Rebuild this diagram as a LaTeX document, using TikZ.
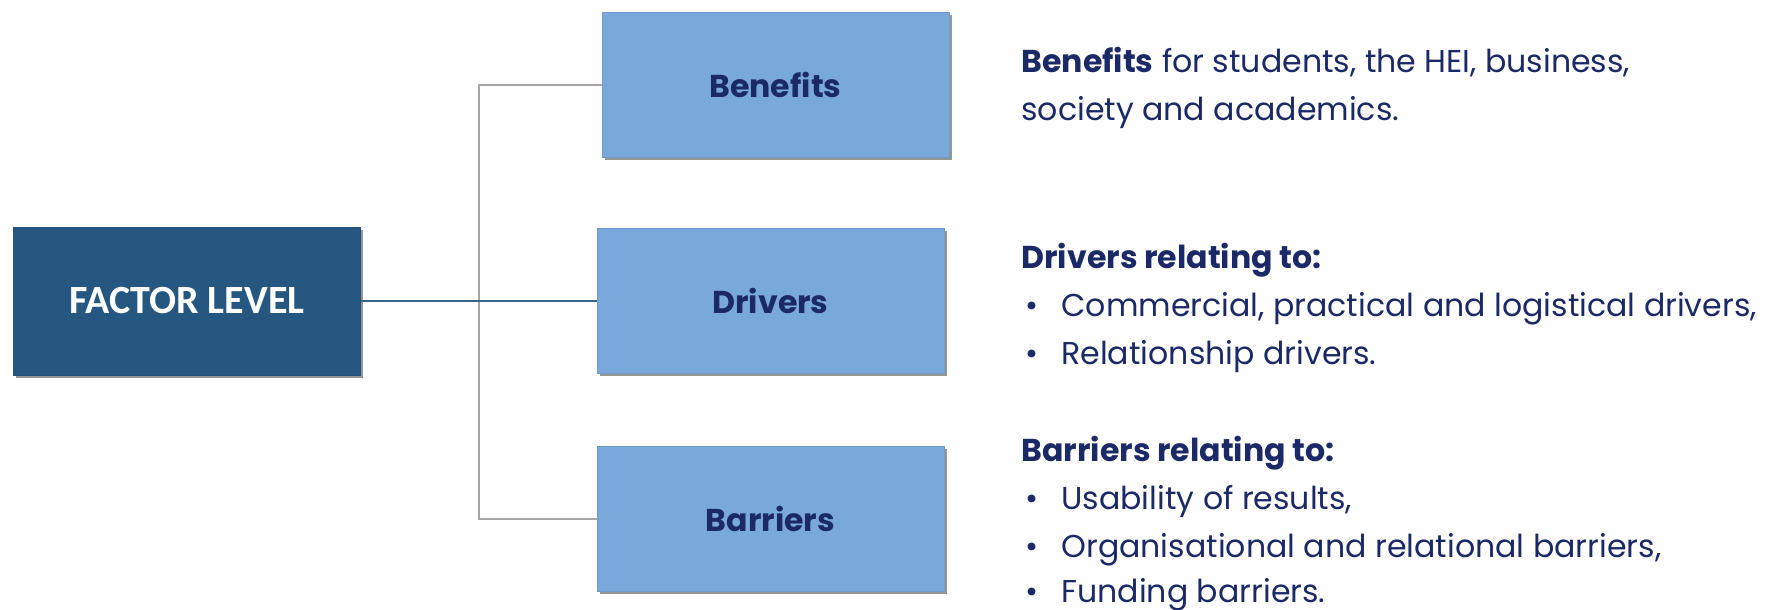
\documentclass[tikz,border=0pt]{standalone}
\usepackage{fontspec}
\setmainfont{Poppins}
\newfontfamily\calib{Carlito}
\usetikzlibrary{shadows}
\definecolor{navy}{HTML}{1B2A66}
\definecolor{darkbox}{HTML}{255780}
\definecolor{lightbox}{HTML}{79A9DB}
\definecolor{vline}{HTML}{A6A6A6}
\definecolor{hline}{HTML}{3B6385}
\begin{document}
\begin{tikzpicture}[x=0.5pt,y=-0.5pt,
  shade/.style={drop shadow={shadow xshift=1.4pt,shadow yshift=-1.4pt,fill=black!55,opacity=0.75}},
  subbox/.style={shade, draw=lightbox!92!black, line width=0.3pt, fill=lightbox, minimum width=173.5pt, minimum height=72.5pt, inner sep=0pt, font=\fontsize{15.8}{18}\selectfont\bfseries, text=navy},
  mainbox/.style={shade, draw=darkbox!92!black, line width=0.3pt, fill=darkbox, minimum width=173.5pt, minimum height=74pt, inner sep=0pt, font=\calib\fontsize{20}{22}\selectfont\bfseries, text=white},
  txt/.style={anchor=base west, inner sep=0pt, text=navy, font=\fontsize{15.8}{18}\selectfont},
  bul/.style={anchor=base, inner sep=0pt, text=navy, font=\fontsize{15.8}{18}\selectfont},
  gline/.style={draw=vline, line width=1pt},
  bline/.style={draw=hline, line width=1pt}]
\useasboundingbox (0,0) rectangle (1766,610);
\node[mainbox] (fl) at (187,301) {FACTOR LEVEL};
\node[subbox] (ben) at (775.5,85) {Benefits};
\node[subbox] (drv) at (770.5,301) {Drivers};
\node[subbox] (bar) at (770.5,519) {Barriers};
\coordinate (jx) at (479,301);
\draw[gline] (ben.west) -| (jx |- bar.west) -- (bar.west);
\draw[bline] (fl.east) -- (drv.west);
% texts
\node[txt] (b1) at (1021,73) {\textbf{Benefits} for students, the HEI, business,};
\node[txt] (b2) at (1021,120) {society and academics.};
\node[txt] (d0) at (1021,268) {\textbf{Drivers relating to:}};
\node[bul] (d1b) at (1032,316) {•};
\node[txt] (d1) at (1061,316) {Commercial, practical and logistical drivers,};
\node[bul] (d2b) at (1032,364) {•};
\node[txt] (d2) at (1061,364) {Relationship drivers.};
\node[txt] (r0) at (1021,461) {\textbf{Barriers relating to:}};
\node[bul] (r1b) at (1032,509) {•};
\node[txt] (r1) at (1061,509) {Usability of results,};
\node[bul] (r2b) at (1032,557) {•};
\node[txt] (r2) at (1061,557) {Organisational and relational barriers,};
\node[bul] (r3b) at (1032,602) {•};
\node[txt] (r3) at (1061,602) {Funding barriers.};
\end{tikzpicture}
\end{document}
